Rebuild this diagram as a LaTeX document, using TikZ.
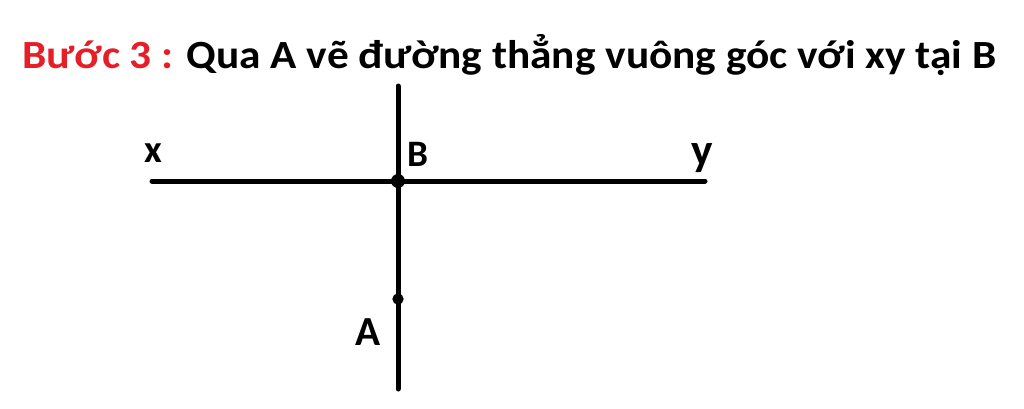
\documentclass[tikz,border=0pt]{standalone}
\usepackage{fontspec}
\setmainfont{Carlito}
\usetikzlibrary{positioning}

\begin{document}
\begin{tikzpicture}[x=0.75pt, y=-0.75pt, font=\bfseries]%

            \tikzset{ln/.style = {line width = 3.75pt, line cap = round}}
            \tikzset{pt/.style = {circle, fill = black, minimum size = 10.5pt, inner sep = 0pt}}
            \tikzset{smallpt/.style = {circle, fill = black, minimum size = 8.5pt, inner sep = 0pt}}
            \tikzset{lbl/.style = {inner sep = 0pt, anchor = base}}
        %%
            \useasboundingbox (0,0) rectangle (1024,408);
            %% Title
            \node [lbl, anchor = base west, font = \bfseries\fontsize{30}{34}\selectfont] (title) at (22,68)
                {\scalebox{1.083}[1]{\textcolor[RGB]{230,30,40}{Bước 3 :} Qua A vẽ đường thẳng vuông góc với xy tại B}};

            %% Line xy
            \coordinate (x_end) at (152,181);
            \coordinate (y_end) at (705,181);
            \draw [ln] (x_end) -- (y_end);

            %% Perpendicular through A
            \coordinate (top_end) at (398,86);
            \coordinate (bot_end) at (398,389);
            \draw [ln] (top_end) -- (bot_end);

            %% Points
            \node [pt] (B) at (398,181) {};
            \node [smallpt] (A) at (398,299) {};

            %% Labels
            \node [lbl, font = \bfseries\fontsize{29}{30}\selectfont] (x_lbl) at (153,162) {x};
            \node [lbl, font = \bfseries\fontsize{34}{36}\selectfont] (y_lbl) at (702,165) {y};
            \node [lbl, font = \bfseries\fontsize{28}{30}\selectfont] (B_lbl) at (418,166) {B};
            \node [lbl, font = \bfseries\fontsize{31}{32}\selectfont] (A_lbl) at (368,345) {A};
        \end{tikzpicture}
\end{document}
